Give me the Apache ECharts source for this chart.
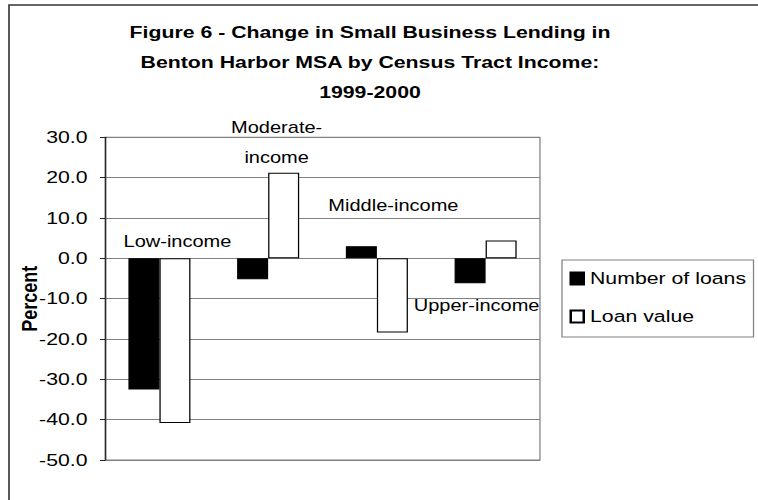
<!DOCTYPE html>
<html>
<head>
<meta charset="utf-8">
<script src="https://cdn.jsdelivr.net/npm/echarts@6/dist/echarts.min.js"></script>
<style>
  html, body { margin: 0; padding: 0; background: #fff; overflow: hidden; }
  #c { width: 606px; height: 500px; transform: scaleX(1.2508); transform-origin: 0 0; }
</style>
</head>
<body>
<div id="c"></div>
<script>
// ---- data ----
const categories = ['Low-income', 'Moderate-income', 'Middle-income', 'Upper-income'];
const numberOfLoans = [-32.5, -5.2, 3.0, -6.2];
const loanValue = [-40.8, 21.2, -18.4, 4.4];
const yMin = -50, yMax = 30, yStep = 10;
const titleLines = ['Figure 6 - Change in Small Business Lending in', 'Benton Harbor MSA by Census Tract Income:', '1999-2000'];

// ---- styling ----
const FONT = '"Liberation Sans", Arial, sans-serif';
const labelBase = { show: true, color: '#000', fontFamily: FONT, fontSize: 16, formatter: p => p.name };
const labelPlacement = [
  { on: 'loan', position: 'top', offset: [2, -3.5] },
  { on: 'loan', position: 'top', offset: [-5.6, 5], text: 'Moderate-\nincome', lineHeight: 30 },
  { on: 'loan', position: 'top', offset: [0.8, -39.5] },
  { on: 'count', position: 'bottom', offset: [5.2, 9.3] }
];
function buildData(values, key) {
  return values.map((v, i) => {
    const lp = labelPlacement[i];
    if (lp.on !== key) return { value: v };
    const lab = Object.assign({}, labelBase, { position: lp.position, offset: lp.offset });
    if (lp.text) { lab.formatter = lp.text; lab.lineHeight = lp.lineHeight; }
    return { value: v, label: lab };
  });
}

const chart = echarts.init(document.getElementById('c'), null, { renderer: 'svg' });
chart.setOption({
  animation: false,
  backgroundColor: '#fff',
  title: {
    text: titleLines.join('\n'),
    left: 295.8,
    textAlign: 'center',
    top: 17,
    padding: 0,
    textStyle: { fontFamily: FONT, fontWeight: 'bold', fontSize: 17, lineHeight: 30, color: '#000' }
  },
  graphic: [{
    type: 'rect', silent: true, z: -1,
    shape: { x: 7.2, y: 5, width: 700, height: 600 },
    style: { fill: 'none', stroke: '#333', lineWidth: 1.3 }
  }],
  legend: {
    orient: 'vertical',
    left: 449.3,
    top: 260,
    padding: [10, 6, 12, 6],
    itemGap: 21,
    itemWidth: 10.4,
    itemHeight: 12,
    borderColor: '#808080',
    borderWidth: 1,
    icon: 'rect',
    textStyle: { fontFamily: FONT, fontSize: 17, color: '#000' },
    data: ['Number of loans', 'Loan value']
  },
  grid: {
    left: 84, top: 137.3, right: 174.3, bottom: 40,
    outerBoundsMode: 'none',
    containLabel: false,
    show: true, borderColor: '#808080', borderWidth: 1, backgroundColor: 'transparent'
  },
  xAxis: {
    type: 'category',
    data: categories,
    axisLine: { show: false },
    axisTick: { show: false },
    axisLabel: { show: false },
    splitLine: { show: false }
  },
  yAxis: {
    type: 'value',
    min: yMin, max: yMax, interval: yStep,
    name: 'Percent',
    nameLocation: 'middle',
    nameGap: 52,
    nameMoveOverlap: false,
    nameTextStyle: { fontFamily: FONT, fontWeight: 'bold', fontSize: 18, color: '#000' },
    axisLine: { show: true, lineStyle: { color: '#222', width: 1 } },
    axisTick: { show: true, length: 4, lineStyle: { color: '#222' } },
    axisLabel: { margin: 14, fontFamily: FONT, fontSize: 17, color: '#000', formatter: v => v.toFixed(1) },
    splitLine: { show: true, lineStyle: { color: '#808080', width: 1 } }
  },
  series: [
    {
      name: 'Number of loans', type: 'bar',
      data: buildData(numberOfLoans, 'count'),
      barWidth: 24.8, barGap: '0%',
      itemStyle: { color: '#000', borderColor: '#000', borderWidth: 1 }
    },
    {
      name: 'Loan value', type: 'bar',
      data: buildData(loanValue, 'loan'),
      barWidth: 24.8, barGap: '0%',
      itemStyle: { color: '#fff', borderColor: '#000', borderWidth: 1 }
    }
  ]
});
</script>
</body>
</html>
